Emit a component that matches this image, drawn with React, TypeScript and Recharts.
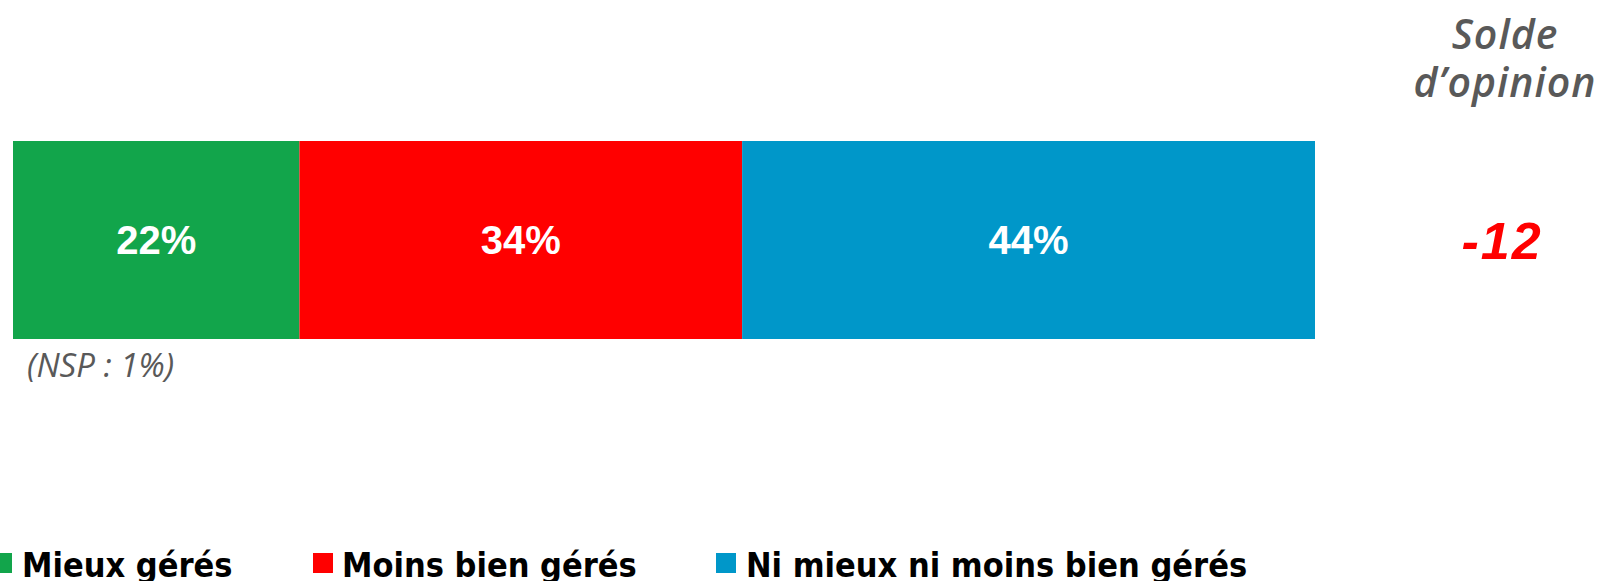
import { BarChart, Bar, XAxis, YAxis, LabelList } from 'recharts';

// données du sondage
const categories = ['Opinion'];
const seriesNames = ['Mieux gérés', 'Moins bien gérés', 'Ni mieux ni moins bien gérés'];
const seriesKeys = ['mieux', 'moins', 'ni'];
const seriesColors = ['#12A54B', '#FF0000', '#0097C9'];
const seriesValues = [22, 34, 44];
const soldeTitle = ['Solde', 'd’opinion'];
const solde = '-12';
const nsp = '(NSP : 1%)';

const W = 1607;
const H = 581;

const data = categories.map((name) => {
  const row: Record<string, string | number> = { name };
  seriesKeys.forEach((k, i) => {
    row[k] = seriesValues[i];
  });
  return row;
});

// positions des entrées de légende (x du carré, x du texte)
const legendBox = [-8, 313, 716];
const legendText = [22, 342, 746];

export default function App() {
  return (
    <div style={{ position: 'absolute', left: 0, top: 0, width: W, height: H, background: '#fff', overflow: 'hidden' }}>
      <BarChart
        width={W}
        height={H}
        data={data}
        layout="vertical"
        margin={{ top: 141, right: 292, left: 13, bottom: 242 }}
        barCategoryGap={0}
      >
        <XAxis type="number" domain={[0, 100]} hide />
        <YAxis type="category" dataKey="name" hide />
        {seriesKeys.map((k, i) => (
          <Bar key={k} dataKey={k} stackId="a" fill={seriesColors[i]} isAnimationActive={false}>
            <LabelList
              dataKey={k}
              position="center"
              formatter={(v: any) => `${v}%`}
              style={{ fill: '#fff', fontFamily: "'Liberation Sans', Arial, sans-serif", fontWeight: 700, fontSize: 40 }}
            />
          </Bar>
        ))}
      </BarChart>

      {/* Solde d'opinion */}
      {soldeTitle.map((t, i) => (
        <div
          key={t}
          style={{
            position: 'absolute',
            left: 1405,
            width: 200,
            top: 13 + i * 48,
            textAlign: 'center',
            fontFamily: "'Open Sans', sans-serif",
            fontStyle: 'italic',
            fontWeight: 600,
            fontSize: 41,
            letterSpacing: 1,
            lineHeight: '41px',
            color: '#595959',
            whiteSpace: 'nowrap',
          }}
        >
          {t}
        </div>
      ))}
      <div
        style={{
          position: 'absolute',
          left: 1402,
          width: 200,
          top: 211,
          textAlign: 'center',
          fontFamily: "'Liberation Sans', Arial, sans-serif",
          fontStyle: 'italic',
          fontWeight: 700,
          fontSize: 52,
          letterSpacing: 2,
          lineHeight: '60px',
          color: '#FF0000',
        }}
      >
        {solde}
      </div>

      <div
        style={{
          position: 'absolute',
          left: 27,
          top: 347,
          fontFamily: "'Open Sans', sans-serif",
          fontStyle: 'italic',
          fontSize: 33,
          lineHeight: '36px',
          color: '#595959',
          whiteSpace: 'nowrap',
        }}
      >
        {nsp}
      </div>

      {/* légende */}
      {seriesNames.map((n, i) => (
        <div key={n}>
          <span
            style={{
              position: 'absolute',
              left: legendBox[i],
              top: 553,
              width: 20,
              height: 20,
              background: seriesColors[i],
            }}
          />
          <span
            style={{
              position: 'absolute',
              left: legendText[i],
              top: 545,
              fontFamily: "'DejaVu Sans Condensed', 'DejaVu Sans', sans-serif",
              fontStretch: 'condensed',
              fontWeight: 700,
              fontSize: 34,
              lineHeight: '40px',
              color: '#000',
              whiteSpace: 'nowrap',
            }}
          >
            {n}
          </span>
        </div>
      ))}
    </div>
  );
}
